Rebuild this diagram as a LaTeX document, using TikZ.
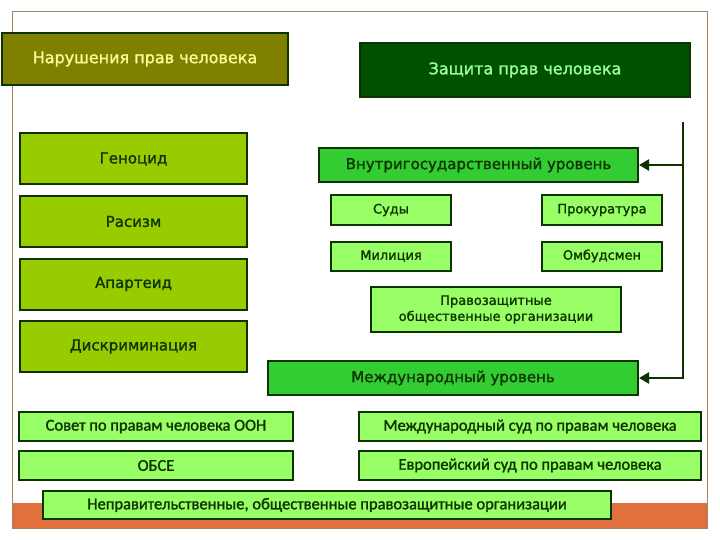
\documentclass[tikz,border=0pt]{standalone}
\usepackage{fontspec}
\setmainfont{DejaVu Sans}[FakeBold=1.4]
\newfontfamily\calfont{Carlito}[FakeBold=1.4]
\usetikzlibrary{arrows.meta}
\definecolor{hrframe}{HTML}{A08366}
\definecolor{hrband}{HTML}{E2703C}
\definecolor{hrolive}{HTML}{808000}
\definecolor{hrdeep}{HTML}{005000}
\definecolor{hrlime}{HTML}{99CC00}
\definecolor{hrmid}{HTML}{33CC33}
\definecolor{hrlight}{HTML}{99FF66}
\definecolor{hredge}{HTML}{0D3300}
\tikzset{
 hr box/.style={draw=hredge,line width=2pt,text=hredge,align=center,inner sep=2pt},
 hr head/.style={hr box,font=\fontsize{16}{19}\selectfont},
 hr wrong/.style={hr box,fill=hrlime,minimum width=227pt,minimum height=51pt,
   font=\fontsize{15}{18}\selectfont},
 hr level/.style={hr box,fill=hrmid,minimum height=34pt,font=\fontsize{15}{18}\selectfont},
 hr organ/.style={hr box,fill=hrlight,font=\fontsize{13}{16}\selectfont},
 hr world/.style={hr box,fill=hrlight,minimum height=29pt,
   font=\calfont\fontsize{16.5}{19}\selectfont},
 hr flow/.style={-{Triangle[length=10pt,width=11pt]},line width=2.6pt,draw=hredge}
}
\begin{document}
\begin{tikzpicture}[x=1pt,y=-1pt]
\useasboundingbox (0,0) rectangle (720,540);
\fill[hrband] (12,503) rectangle (707,528);
\draw[hrframe,line width=1pt] (12,12) rectangle (707,528);
\node[hr head,fill=hrolive,text=yellow!40,minimum width=286pt,minimum height=52pt] (wrong) at (145,59) {Нарушения прав человека};
\node[hr head,fill=hrdeep,text=green!40,minimum width=330pt,minimum height=54pt] (protect) at (525,70) {Защита прав человека};
\node[hr wrong] (genocide) at (133.5,159) {Геноцид};
\node[hr wrong] (racism) at (133.5,221.5) {Расизм};
\node[hr wrong] (apartheid) at (133.5,284) {Апартеид};
\node[hr wrong] (discrim) at (133.5,346.5) {Дискриминация};
\node[hr level,minimum width=319pt] (inland) at (478.5,165) {Внутригосударственный уровень};
\node[hr organ,minimum width=120pt,minimum height=30pt] (courts) at (391,210) {Суды};
\node[hr organ,minimum width=120pt,minimum height=30pt] (prosec) at (602,210) {Прокуратура};
\node[hr organ,minimum width=120pt,minimum height=29pt] (police) at (391,256) {Милиция};
\node[hr organ,minimum width=120pt,minimum height=29pt] (ombuds) at (602,256) {Омбудсмен};
\node[hr organ,minimum width=250pt,minimum height=45pt] (ngo) at (496,309.5) {Правозащитные\\общественные организации};
\node[hr level,minimum width=370pt] (intl) at (453,378) {Международный уровень};
\node[hr world,minimum width=274pt] (unhrc) at (156,426.5) {Совет по правам человека ООН};
\node[hr world,minimum width=274pt] (osce) at (156,465.5) {ОБСЕ};
\node[hr world,minimum width=342pt] (icj) at (530,426.5) {Международный суд по правам человека};
\node[hr world,minimum width=342pt] (echr) at (530,465.5) {Европейский суд по правам человека};
\node[hr world,minimum width=568pt,minimum height=28pt] (ngos) at (327,505) {Неправительственные, общественные правозащитные организации};
\coordinate (rail) at (683,122);
\draw[hr flow] (rail)--(rail|-intl)--(intl.east);
\draw[hr flow] (rail|-inland)--(inland.east);
\end{tikzpicture}
\end{document}
